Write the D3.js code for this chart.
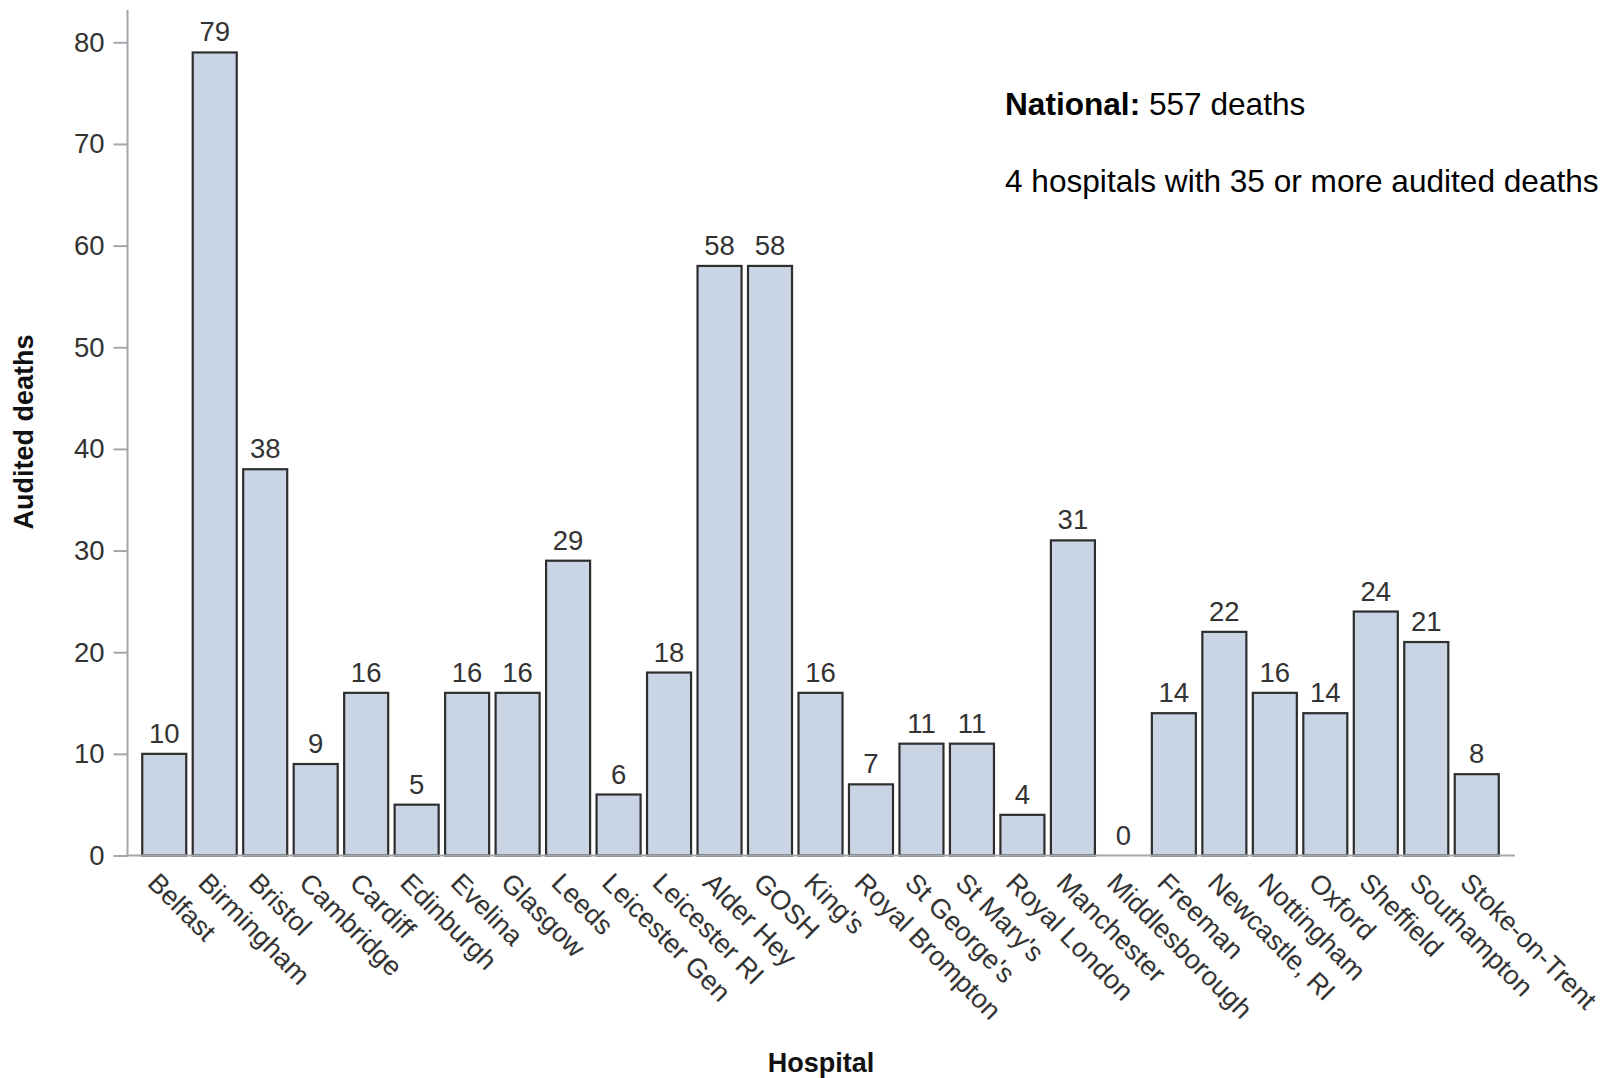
<!DOCTYPE html>
<html>
<head>
<meta charset="utf-8">
<script src="https://cdn.jsdelivr.net/npm/d3@7"></script>
<style>
  html, body { margin: 0; padding: 0; background: #fff; }
  svg { display: block; font-family: "Liberation Sans", Arial, sans-serif; }
</style>
</head>
<body>
<svg id="chart" width="1604" height="1078"></svg>
<script>
const hospitals = ["Belfast", "Birmingham", "Bristol", "Cambridge", "Cardiff", "Edinburgh", "Evelina", "Glasgow", "Leeds", "Leicester Gen", "Leicester RI", "Alder Hey", "GOSH", "King's", "Royal Brompton", "St George's", "St Mary's", "Royal London", "Manchester", "Middlesborough", "Freeman", "Newcastle, RI", "Nottingham", "Oxford", "Sheffield", "Southampton", "Stoke-on-Trent"];
const deaths = [10, 79, 38, 9, 16, 5, 16, 16, 29, 6, 18, 58, 58, 16, 7, 11, 11, 4, 31, 0, 14, 22, 16, 14, 24, 21, 8];
const yTicks = [0, 10, 20, 30, 40, 50, 60, 70, 80];
const xTitle = "Hospital";
const yTitle = "Audited deaths";
const noteBold = "National:";
const noteRest = " 557 deaths";
const note2 = "4 hospitals with 35 or more audited deaths";

const data = hospitals.map((h, i) => ({ h, v: deaths[i] }));
const svg = d3.select("#chart");

const axisLeftX = 127.5, axisRightX = 1515, baseY = 855.5, topY = 10;

const x = d3.scaleBand().domain(hospitals).range([139, 1502]).paddingInner(0.128).paddingOuter(0.064);
const y = d3.scaleLinear().domain([0, 80]).range([baseY, 42.3]);

// Y axis
const yAxis = svg.append("g").attr("transform", `translate(${axisLeftX},0)`)
  .call(d3.axisLeft(y).tickValues(yTicks).tickSize(14).tickPadding(9).tickSizeOuter(0).tickFormat(d3.format("d")));
yAxis.select(".domain").remove();
yAxis.selectAll(".tick line").attr("stroke", "#a4a8ad").attr("stroke-width", 2);
yAxis.selectAll(".tick text").attr("font-size", 27.5).attr("fill", "#333").attr("font-family", "Liberation Sans, Arial, sans-serif");
svg.append("line").attr("x1", axisLeftX).attr("x2", axisLeftX).attr("y1", topY).attr("y2", baseY)
  .attr("stroke", "#a4a8ad").attr("stroke-width", 2);

// Bars
svg.append("g").selectAll("rect").data(data).join("rect")
  .attr("x", d => x(d.h))
  .attr("width", x.bandwidth())
  .attr("y", d => y(d.v))
  .attr("height", d => y(0) - y(d.v))
  .attr("fill", "#c9d4e5")
  .attr("stroke", d => d.v > 0 ? "#2e2e2e" : "#f2f2f2")
  .attr("stroke-width", 2.2);

// X axis line
svg.append("line").attr("x1", axisLeftX - 1).attr("x2", axisRightX).attr("y1", baseY).attr("y2", baseY)
  .attr("stroke", "#a4a8ad").attr("stroke-width", 2);

// Bar value labels
svg.append("g").selectAll("text").data(data).join("text")
  .attr("x", d => x(d.h) + x.bandwidth() / 2)
  .attr("y", d => y(d.v) - 11)
  .attr("text-anchor", "middle")
  .attr("font-size", 27.5)
  .attr("fill", "#333")
  .text(d => d.v);

// X tick labels (rotated)
svg.append("g").selectAll("text").data(hospitals).join("text")
  .attr("transform", d => `translate(${x(d) + x.bandwidth() / 2 - 18},${baseY + 29}) rotate(45)`)
  .attr("text-anchor", "start")
  .attr("font-size", 27)
  .attr("fill", "#333")
  .text(d => d);

// Axis titles
svg.append("text").attr("x", 821).attr("y", 1072).attr("text-anchor", "middle")
  .attr("font-size", 27).attr("font-weight", "bold").attr("fill", "#111").text(xTitle);
svg.append("text").attr("transform", `translate(33,432) rotate(-90)`).attr("text-anchor", "middle")
  .attr("font-size", 27).attr("font-weight", "bold").attr("fill", "#111").text(yTitle);

// Annotation
const t1 = svg.append("text").attr("x", 1005).attr("y", 115).attr("font-size", 31.6).attr("fill", "#000");
t1.append("tspan").attr("font-weight", "bold").text(noteBold);
t1.append("tspan").text(noteRest);
svg.append("text").attr("x", 1005).attr("y", 191.5).attr("font-size", 31.6).attr("fill", "#000").text(note2);
</script>
</body>
</html>
